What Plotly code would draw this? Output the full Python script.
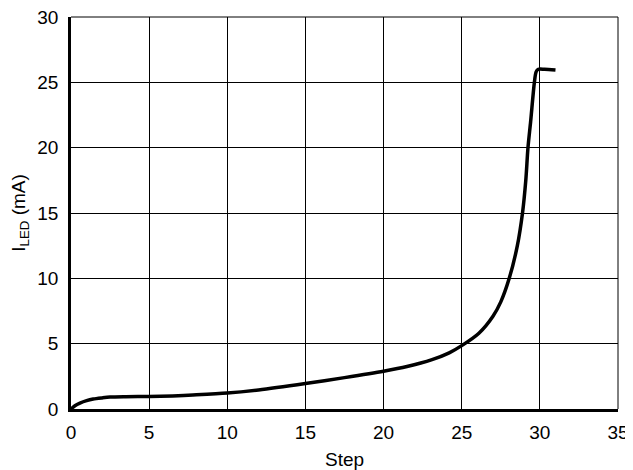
import plotly.graph_objects as go

step = [0, 0.25, 0.57, 1.0, 1.42, 2.0, 2.5, 3.5, 5, 6.5, 7.8, 10, 12, 15, 17.5, 20, 21.5, 23.1, 24.2, 25, 26.1, 27.0, 27.5, 28.04, 28.56, 28.89, 29.1, 29.24, 29.41, 29.65, 29.76, 29.9, 30.3, 31.0]
iled = [0, 0.25, 0.45, 0.64, 0.76, 0.85, 0.91, 0.94, 0.96, 1.0, 1.07, 1.22, 1.46, 1.95, 2.4, 2.89, 3.25, 3.78, 4.3, 4.85, 5.8, 7.1, 8.2, 10.0, 12.5, 15.0, 17.5, 20.0, 22.0, 25.0, 25.8, 26.0, 26.0, 25.95]

x_ticks = [0, 5, 10, 15, 20, 25, 30, 35]
y_ticks = [0, 5, 10, 15, 20, 25, 30]

fig = go.Figure()
fig.add_trace(go.Scatter(
    x=step, y=iled, mode="lines",
    line=dict(color="black", width=3.5, shape="spline", smoothing=0.8),
    showlegend=False, hoverinfo="skip",
))

font = dict(family="Liberation Sans, Arial, Helvetica, sans-serif", size=19, color="black")

# thin frame on the top and right edges of the plotting area (grid lines at the edges)
fig.add_shape(type="line", xref="paper", yref="paper", x0=0, x1=1, y0=1, y1=1,
              line=dict(color="black", width=1), layer="below")
fig.add_shape(type="line", xref="paper", yref="paper", x0=1, x1=1, y0=0, y1=1,
              line=dict(color="black", width=1), layer="below")

# page body has an 8px margin; the figure is sized to fill the rest of the 633x470 window
fig.update_layout(
    width=625, height=462,
    margin=dict(l=63, r=15, t=9, b=61),
    paper_bgcolor="white", plot_bgcolor="white",
    font=font,
    xaxis=dict(
        range=[0, 35], tickvals=x_ticks, ticktext=[str(v) for v in x_ticks],
        showgrid=True, gridcolor="black", gridwidth=1,
        showline=True, linecolor="black", linewidth=2.5,
        zeroline=False, ticks="", ticklen=0, automargin=False,
        ticklabelstandoff=4, ticklabeloverflow="allow",
        title=dict(text="Step", standoff=12, font=font),
        tickfont=font,
    ),
    yaxis=dict(
        range=[0, 30], tickvals=y_ticks, ticktext=[str(v) for v in y_ticks],
        showgrid=True, gridcolor="black", gridwidth=1,
        showline=True, linecolor="black", linewidth=2.5,
        zeroline=False, ticks="", ticklen=0, automargin=False,
        ticklabelstandoff=6, ticklabeloverflow="allow",
        title=dict(text="I<sub>LED</sub> (mA)", standoff=8, font=font),
        tickfont=font,
    ),
)

fig.write_html("out.html")
